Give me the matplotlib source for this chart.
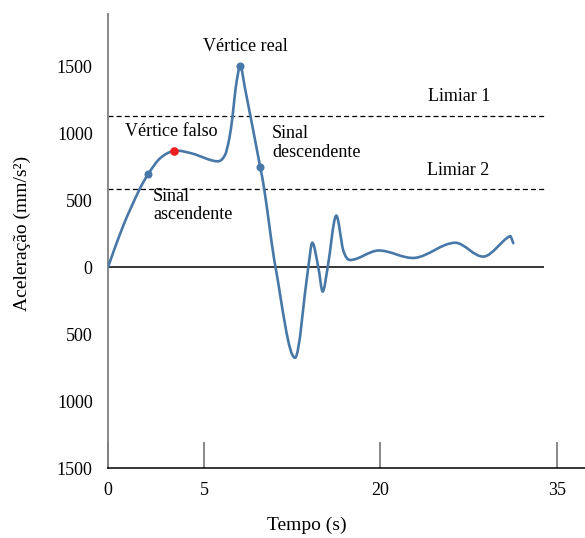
import numpy as np
import matplotlib
matplotlib.use("Agg")
import matplotlib.pyplot as plt
from matplotlib.path import Path
from matplotlib.patches import PathPatch

plt.rcParams['font.family'] = ['Liberation Serif', 'DejaVu Serif']

# Signal (x in chart units, y in mm/s^2)
signal_x = [0, 15, 31.3, 40.3, 52, 66.3, 83.7, 109.5, 117, 121.3, 124.7, 127.7, 132.3,
            137, 152.3, 156.3, 167.5, 187, 200.3, 204.3, 210.3, 214.7, 219.7,
            228, 235.3, 242, 270.3, 307, 347, 376, 402, 405.3]
signal_y = [0, 305, 577, 696, 812, 868, 849, 790, 837, 961, 1134, 1340, 1500,
            1335, 744, 579, 0, -677, 0, 182, 0, -182, 0,
            383, 124, 53, 124, 69, 182, 79, 231, 179]

blue_pts_x = [40.3, 132.3, 152.3]
blue_pts_y = [696, 1500, 744]
red_pt_x = [66.3]
red_pt_y = [868]

threshold1 = 1125
threshold2 = 580

yticks = [1500, 1000, 500, 0, -500, -1000, -1500]
ytick_labels = ["1500", "1000", "500", "0", "500", "1000", "1500"]
xticks = [0, 96, 272, 449]
xtick_labels = ["0", "5", "20", "35"]

LINE_COLOR = '#4878a8'

fig = plt.figure(figsize=(5.85, 5.38), dpi=100)
ax = fig.add_axes([108/585, 70/538, 477/585, 454/538])
ax.set_xlim(0, 477)
ax.set_ylim(-1500, 1890)


def smooth_path(xs, ys):
    """Cubic Hermite through the read points, drawn as Bezier segments."""
    x = np.asarray(xs, float)
    y = np.asarray(ys, float)
    n = len(x)
    m = np.zeros(n)
    for i in range(n):
        lo = max(i - 1, 0)
        hi = min(i + 1, n - 1)
        m[i] = (y[hi] - y[lo]) / (x[hi] - x[lo])
    verts = [(x[0], y[0])]
    codes = [Path.MOVETO]
    for i in range(n - 1):
        h = x[i + 1] - x[i]
        verts += [(x[i] + h / 3, y[i] + m[i] * h / 3),
                  (x[i + 1] - h / 3, y[i + 1] - m[i + 1] * h / 3),
                  (x[i + 1], y[i + 1])]
        codes += [Path.CURVE4] * 3
    return Path(verts, codes)


# zero line and thresholds
ax.hlines(0, 0, 436, color='black', lw=1.1, zorder=2)
ax.hlines([threshold1, threshold2], 0, 436, color='black', lw=0.9,
          linestyles=(0, (4, 2.5)), zorder=2)

patch = PathPatch(smooth_path(signal_x, signal_y), facecolor='none',
                  edgecolor=LINE_COLOR, lw=1.9, zorder=3, capstyle='round')
ax.add_patch(patch)

ax.plot(blue_pts_x, blue_pts_y, 'o', color=LINE_COLOR, ms=4.8, zorder=4)
ax.plot(red_pt_x, red_pt_y, 'o', color='#f02020', ms=5.2, zorder=4)

# spines
for s in ['top', 'right']:
    ax.spines[s].set_visible(False)
ax.spines['left'].set_color('#7f7f7f')
ax.spines['left'].set_linewidth(1.3)
ax.spines['bottom'].set_color('black')
ax.spines['bottom'].set_linewidth(1.1)

ax.set_yticks(yticks)
ax.set_yticklabels(ytick_labels, fontsize=13)
ax.tick_params(axis='y', length=0, pad=11)
ax.set_xticks(xticks)
ax.set_xticklabels(xtick_labels, fontsize=13)
ax.tick_params(axis='x', direction='in', length=19, width=1.3, color='#7f7f7f', pad=10)

fs = 13
ax.text(95, 1651, "Vértice real", fontsize=fs, ha='left', va='center')
ax.text(17, 1011, "Vértice falso", fontsize=fs, ha='left', va='center')
ax.text(45, 460, "Sinal\nascendente", fontsize=fs, ha='left', va='center', linespacing=1.15)
ax.text(164, 929, "Sinal\ndescendente", fontsize=fs, ha='left', va='center', linespacing=1.15)
ax.text(320, 1273, "Limiar 1", fontsize=fs, ha='left', va='center')
ax.text(319, 718, "Limiar 2", fontsize=fs, ha='left', va='center')

fig.text(22/585, 1 - 233/538, "Aceleração (mm/s²)", rotation=90, fontsize=14,
         ha='center', va='center')
fig.text(307/585, 1 - 525/538, "Tempo (s)", fontsize=14, ha='center', va='center')

fig.savefig("out.png", dpi=100)
